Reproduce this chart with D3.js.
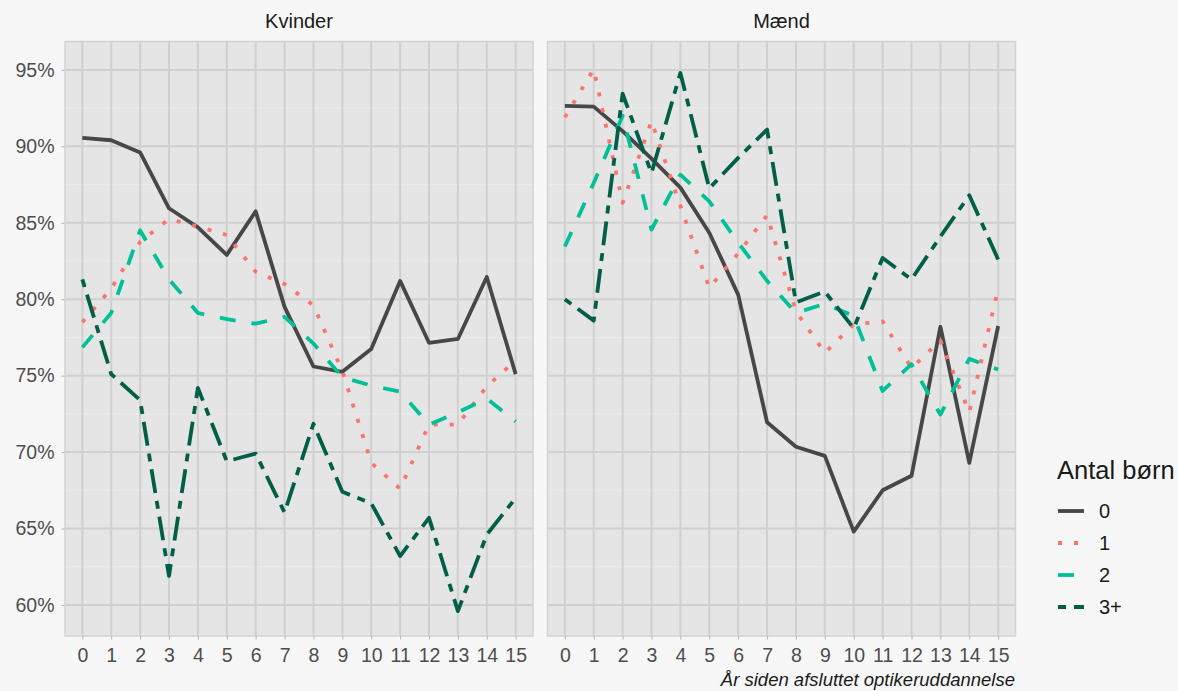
<!DOCTYPE html>
<html><head><meta charset="utf-8">
<script src="https://cdn.jsdelivr.net/npm/d3@7"></script>
<style>
html,body{margin:0;padding:0;background:#F7F7F7;}
svg{display:block;font-family:"Liberation Sans",Arial,sans-serif;}
</style></head><body>
<svg id="chart" width="1178" height="691"></svg>
<script>
const years = [0,1,2,3,4,5,6,7,8,9,10,11,12,13,14,15];
const panels = ["Kvinder","Mænd"];
const groups = ["0","1","2","3+"];
const yTicks = [60,65,70,75,80,85,90,95];
const yMinor = [62.5,67.5,72.5,77.5,82.5,87.5,92.5];

const kvinder0  = [90.55,90.4,89.6,85.95,84.7,82.9,85.75,79.5,75.6,75.25,76.75,81.2,77.15,77.4,81.45,75.1];
const kvinder1  = [78.5,80.7,83.75,85.25,84.75,84.2,81.8,81.0,79.6,75.3,69.3,67.6,71.8,71.8,74.3,76.0];
const kvinder2  = [76.85,79.1,84.5,81.3,79.1,78.7,78.4,78.85,77.1,74.9,74.35,73.95,71.8,72.6,73.5,72.0];
const kvinder3p = [81.3,75.1,73.4,61.9,74.2,69.4,69.9,66.05,71.85,67.4,66.65,63.2,65.7,59.6,64.6,67.0];

const maend0  = [92.65,92.6,91.0,89.2,87.3,84.35,80.3,71.95,70.35,69.75,64.8,67.5,68.45,78.2,69.3,78.25];
const maend1  = [91.9,95.05,86.3,91.65,86.1,80.75,83.0,85.5,79.2,76.5,78.35,78.55,75.5,77.3,72.6,80.7];
const maend2  = [83.45,87.6,92.0,84.55,88.15,86.4,83.7,81.2,79.1,79.7,78.9,74.0,75.75,72.45,76.1,75.4];
const maend3p = [80.0,78.6,93.45,88.25,94.8,87.25,89.25,91.1,79.8,80.5,78.1,82.7,81.3,84.1,86.8,82.6];

const seriesByPanel = {
  "Kvinder": [kvinder0, kvinder1, kvinder2, kvinder3p],
  "Mænd": [maend0, maend1, maend2, maend3p]
};

const colors = {"0":"#474747","1":"#F8766D","2":"#00C096","3+":"#005F46"};
const LW = 3.8, U = 4;
const dashes = {"0":null,"1":`${U},${3*U}`,"2":`${4*U},${4*U}`,"3+":`${2*U},${2*U},${6*U},${2*U}`};
const FONT = "Liberation Sans, Arial, sans-serif";

const svg = d3.select("#chart");
const panelX = {"Kvinder":[65,533],"Mænd":[547.5,1015.5]};
const pTop = 41.5, pBottom = 636;
const y = d3.scaleLinear().domain([57.97,96.86]).range([pBottom,pTop]);

const yAxisG = svg.append("g").attr("transform",`translate(65,0)`)
  .call(d3.axisLeft(y).tickValues(yTicks).tickFormat(d=>d+"%").tickSize(3.5).tickPadding(7));
yAxisG.select(".domain").remove();
yAxisG.selectAll("line").attr("stroke","#B3B3B3").attr("stroke-width",1);
yAxisG.selectAll("text").attr("fill","#4D4D4D").style("font-size","19.5px").style("font-family",FONT);

panels.forEach(p=>{
  const [x0,x1] = panelX[p];
  const x = d3.scalePoint().domain(years).range([x0,x1]).padding(0.6);
  const g = svg.append("g");
  g.append("rect").attr("x",x0).attr("y",pTop).attr("width",x1-x0).attr("height",pBottom-pTop)
    .attr("fill","#E5E5E5");
  g.selectAll(".ymin").data(yMinor).join("line")
    .attr("x1",x0).attr("x2",x1).attr("y1",d=>y(d)).attr("y2",d=>y(d))
    .attr("stroke","#EBEBEB").attr("stroke-width",1);
  g.selectAll(".ymaj").data(yTicks).join("line")
    .attr("x1",x0).attr("x2",x1).attr("y1",d=>y(d)).attr("y2",d=>y(d))
    .attr("stroke","#D0D0D0").attr("stroke-width",2);
  g.selectAll(".xmaj").data(years).join("line")
    .attr("x1",d=>x(d)).attr("x2",d=>x(d)).attr("y1",pTop).attr("y2",pBottom)
    .attr("stroke","#D0D0D0").attr("stroke-width",2);
  g.append("rect").attr("x",x0).attr("y",pTop).attr("width",x1-x0).attr("height",pBottom-pTop)
    .attr("fill","none").attr("stroke","#D3D3D3").attr("stroke-width",1.5);
  svg.append("text").attr("x",(x0+x1)/2).attr("y",27.5).attr("text-anchor","middle")
    .attr("fill","#1A1A1A").style("font-size","20px").text(p);
  const xa = svg.append("g").attr("transform",`translate(0,${pBottom})`)
    .call(d3.axisBottom(x).tickSize(3.5).tickPadding(9));
  xa.select(".domain").remove();
  xa.selectAll("line").attr("stroke","#B3B3B3").attr("stroke-width",1);
  xa.selectAll("text").attr("fill","#4D4D4D").style("font-size","19.5px").style("font-family",FONT);
  const line = d3.line().x((d,i)=>x(years[i])).y(d=>y(d));
  seriesByPanel[p].forEach((vals,gi)=>{
    const key = groups[gi];
    g.append("path").datum(vals).attr("d",line)
      .attr("fill","none").attr("stroke",colors[key]).attr("stroke-width",LW)
      .attr("stroke-dasharray",dashes[key]).attr("stroke-linejoin","round").attr("stroke-linecap","butt");
  });
});

svg.append("text").attr("x",1015).attr("y",686).attr("text-anchor","end")
  .attr("fill","#1A1A1A").style("font-size","18.5px").style("font-style","italic")
  .text("År siden afsluttet optikeruddannelse");

const lg = svg.append("g");
lg.append("text").attr("x",1057).attr("y",479).attr("fill","#1A1A1A")
  .style("font-size","25.5px").text("Antal børn");
groups.forEach((k,i)=>{
  const yy = 511 + i*32;
  lg.append("line").attr("x1",1058).attr("x2",1084).attr("y1",yy).attr("y2",yy)
    .attr("stroke",colors[k]).attr("stroke-width",LW).attr("stroke-dasharray",dashes[k]);
  lg.append("text").attr("x",1099).attr("y",yy+7).attr("fill","#1A1A1A")
    .style("font-size","20px").text(k);
});
</script>
</body></html>
